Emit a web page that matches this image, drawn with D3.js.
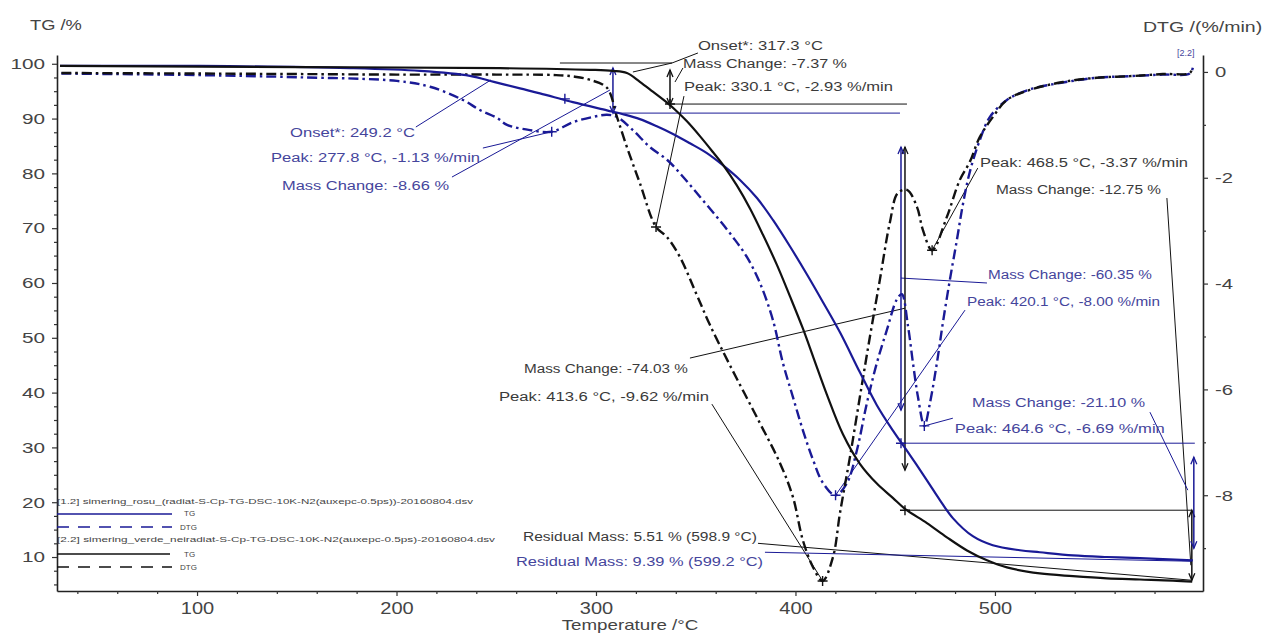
<!DOCTYPE html>
<html><head><meta charset="utf-8">
<script src="https://cdn.jsdelivr.net/npm/d3@7"></script>
<style>
body{margin:0;background:#fff;}
svg{display:block;font-family:"Liberation Sans",Arial,sans-serif;}
</style></head><body>
<svg id="c" width="1264" height="635"></svg>
<script>
// ---------- data ----------
// sample [1.2] (blue)
const blueTG_T = [31.3,101.5,176.7,211.8,236.8,248.8,261.9,271.9,288.4,305.5,313.5,322.0,330.5,338.6,347.1,355.6,363.6,372.2,380.7,388.7,397.2,405.7,413.8,422.3,432.3,440.8,448.8,457.4,465.9,472.4,478.9,488.9,498.9,512.5,522.5,539.1,556.1,572.7,599.2];
const blueTG   = [99.6,99.6,99.2,98.7,97.8,96.7,95.5,94.6,93.0,91.5,90.8,89.9,88.6,87.2,85.5,83.7,81.5,78.8,75.5,71.5,66.7,61.6,56.5,51.0,43.7,37.7,33.1,28.6,24.0,20.4,17.1,13.8,12.15,11.24,10.87,10.3,10.0,9.8,9.4];
const blueDTG_T = [32,100,150,200.2,216.8,233.3,241.8,250.4,255.4,266.9,277.8,288.4,298.5,305.5,310.5,318.5,327.0,335.6,343.6,352.1,360.6,368.6,375.7,382.2,388.7,393.7,398.7,403.7,408.8,413.8,420.1,425.8,430.8,435.8,440.8,445.8,450.8,453.3,456.4,458.9,461.4,464.6,467.4,470.9,473.9,477.4,480.9,483.9,487.4,492.4,497.5,506.0,517.5,534.1,551.1,567.6,584.2,597.7,599.2];
const blueDTG   = [-0.03,-0.06,-0.10,-0.17,-0.28,-0.53,-0.72,-0.87,-1.00,-1.10,-1.13,-0.95,-0.85,-0.81,-0.85,-1.10,-1.42,-1.66,-1.98,-2.36,-2.74,-3.12,-3.50,-3.99,-4.69,-5.50,-6.14,-6.77,-7.33,-7.77,-8.00,-7.77,-7.15,-6.26,-5.50,-4.88,-4.30,-4.20,-4.80,-5.50,-6.14,-6.69,-6.26,-5.50,-4.74,-3.93,-3.18,-2.51,-1.89,-1.29,-0.85,-0.53,-0.33,-0.20,-0.11,-0.08,-0.05,-0.03,0.08];
// sample [2.2] (black)
const blackTG_T = [31.3,151.6,251.9,297.0,308.5,315.5,322.0,328.5,335.6,340.6,345.6,352.1,358.6,363.6,370.6,377.2,383.7,390.7,397.2,403.7,409.0,415.8,423.8,432.3,440.8,448.8,454.9,465.9,475.9,486.0,496.0,506.0,522.5,539.1,556.1,572.7,589.2,598.9];
const blackTG   = [99.6,99.4,99.2,98.9,98.7,98.3,96.7,94.9,92.9,91.3,89.5,86.8,83.9,81.6,77.8,73.6,68.8,63.3,57.6,51.7,46.4,39.6,32.4,27.0,23.4,20.8,18.8,16.2,13.6,11.2,9.4,8.1,7.0,6.5,6.1,5.9,5.7,5.5];
const blackDTG_T = [32,100,150,200,250,280,289.4,297.0,305.5,310.5,315.5,322.0,330.1,335.6,342.1,350.6,357.1,367.1,382.2,392.2,398.7,403.7,408.8,413.6,418.8,422.3,427.3,432.3,437.3,442.3,447.3,451.3,455.9,460.9,463.9,468.5,475.9,482.4,487.4,492.4,499.0,506.0,517.5,534.1,551.1,567.6,584.2,597.7,598.9];
const blackDTG   = [-0.02,-0.03,-0.04,-0.05,-0.05,-0.06,-0.09,-0.15,-0.30,-0.85,-1.42,-2.10,-2.93,-3.12,-3.50,-4.22,-4.78,-5.54,-6.64,-7.39,-8.03,-8.85,-9.36,-9.62,-9.17,-8.34,-7.28,-6.14,-5.01,-3.93,-2.85,-2.29,-2.23,-2.55,-2.99,-3.37,-2.74,-2.04,-1.70,-1.23,-0.85,-0.53,-0.34,-0.19,-0.11,-0.08,-0.04,-0.02,0.08];

// evaluated peaks [T, DTG]
const bluePeaks  = [[277.8,-1.13],[420.1,-8.00],[464.6,-6.69]];
const blackPeaks = [[330.1,-2.93],[413.6,-9.62],[468.5,-3.37]];

// tick labels
const tgTicks  = [10,20,30,40,50,60,70,80,90,100];
const dtgTicks = [0,-2,-4,-6,-8];
const tTicks   = [100,200,300,400,500];

// legend entries
const legendFiles = ["[1.2] simering_rosu_(radiat-S-Cp-TG-DSC-10K-N2(auxepc-0.5ps))-20160804.dsv",
                     "[2.2] simering_verde_neiradiat-S-Cp-TG-DSC-10K-N2(auxepc-0.5ps)-20160804.dsv"];

// annotation texts (position in T / TG units)
const annoText = [
 {s:"Onset*: 317.3 °C", t:351.1, v:103.4, c:"k", w:125},
 {s:"Mass Change: -7.37 %", t:343.6, v:99.96, c:"k", w:164},
 {s:"Peak: 330.1 °C, -2.93 %/min", t:344.1, v:95.76, c:"k", w:209},
 {s:"Onset*: 249.2 °C", t:146.6, v:87.36, c:"b", w:125},
 {s:"Peak: 277.8 °C, -1.13 %/min", t:137.1, v:82.8, c:"b", w:209},
 {s:"Mass Change: -8.66 %", t:142.6, v:77.7, c:"b", w:167},
 {s:"Peak: 468.5 °C, -3.37 %/min", t:492.5, v:81.9, c:"k", w:208},
 {s:"Mass Change: -12.75 %", t:500.5, v:76.96, c:"k", w:165},
 {s:"Mass Change: -60.35 %", t:496.5, v:61.44, c:"b", w:164},
 {s:"Peak: 420.1 °C, -8.00 %/min", t:486.0, v:56.69, c:"b", w:193},
 {s:"Mass Change: -74.03 %", t:263.9, v:44.46, c:"k", w:164},
 {s:"Peak: 413.6 °C, -9.62 %/min", t:251.4, v:39.35, c:"k", w:210},
 {s:"Mass Change: -21.10 %", t:488.5, v:38.26, c:"b", w:173},
 {s:"Peak: 464.6 °C, -6.69 %/min", t:479.9, v:33.51, c:"b", w:210},
 {s:"Residual Mass: 5.51 % (598.9 °C)", t:263.4, v:13.79, c:"k", w:234},
 {s:"Residual Mass: 9.39 % (599.2 °C)", t:259.9, v:9.23, c:"b", w:247}
];
// guide / leader lines: points [T, TG] or [T, DTG, "R"]
const guides = [
 {c:"k", p:[[281.9,100.14],[338.1,100.14],[351.1,101.97]]},
 {c:"k", p:[[318.5,98.5],[338.1,100.14]]},
 {c:"k", p:[[339.6,96.67],[343.6,99.23]]},
 {c:"k", p:[[337.1,92.65],[455.9,92.65]]},
 {c:"k", p:[[344.1,94.1],[330.1,-2.93,"R"]]},
 {c:"k", p:[[347.1,46.3],[454.9,55.4]]},
 {c:"k", p:[[454.9,18.54],[598.7,18.54]]},
 {c:"k", p:[[358.1,37.9],[413.6,-9.62,"R"]]},
 {c:"k", p:[[491.4,80.97],[468.5,-3.37,"R"]]},
 {c:"k", p:[[586.2,75.5],[598.2,8.5]]},
 {c:"k", p:[[381.2,12.5],[598.7,5.76]]},
 {c:"b", p:[[209.7,88.46],[247.3,97.04]]},
 {c:"b", p:[[243.3,84.62],[277.8,-1.13,"R"]]},
 {c:"b", p:[[227.8,79.33],[307.0,95.21]]},
 {c:"b", p:[[308.5,91.0],[452.4,91.0]]},
 {c:"b", p:[[452.9,60.9],[496.0,60.0]]},
 {c:"b", p:[[452.9,30.77],[600.2,30.77]]},
 {c:"b", p:[[485.0,55.05],[420.1,-8.00,"R"]]},
 {c:"b", p:[[478.9,35.33],[464.6,-6.69,"R"]]},
 {c:"b", p:[[577.7,36.43],[596.7,22.2]]},
 {c:"b", p:[[384.7,10.87],[598.7,9.23]]}
];
// mass change double arrows [T, TG top, TG bottom]
const arrows = [
 {c:"k", t:337.1, a:98.86, b:92.47},
 {c:"k", t:454.9, a:84.8, b:25.84},
 {c:"k", t:598.7, a:18.54, b:5.76},
 {c:"b", t:308.5, a:99.23, b:91.0},
 {c:"b", t:452.9, a:84.8, b:36.8},
 {c:"b", t:599.7, a:28.2, b:11.6}
];
// TG step markers [T, TG]
const tgMarks = [{c:"k", t:454.9, v:18.54},{c:"b", t:452.9, v:30.77},{c:"b", t:284.4, v:93.6},{c:"k", t:337.1, v:92.65}];

// ---------- drawing ----------
const BLUE = "#1a1a96", BLACK = "#111111", BTXT = "#45459c", KTXT = "#3a3a3a";
const col = c => c === "b" ? BLUE : BLACK;
const tcol = c => c === "b" ? BTXT : KTXT;

const svg = d3.select("#c");
const x  = d3.scaleLinear().domain([29.8, 604.3]).range([57, 1203]);
const yL = d3.scaleLinear().domain([3.8, 101.6]).range([591, 55]);
const yR = d3.scaleLinear().domain([-9.81, 0.32]).range([591, 55]);

function stretch(sel, f){
  sel.each(function(){ const n=this.getComputedTextLength(); d3.select(this).attr("textLength", n*f).attr("lengthAdjust","spacingAndGlyphs"); });
}

// axes
const gL = svg.append("g").attr("transform","translate(57,0)")
  .call(d3.axisLeft(yL).tickValues(tgTicks).tickSize(5).tickSizeOuter(0).tickPadding(7).tickFormat(d=>String(d)));
svg.append("g").attr("transform","translate(57,0)")
  .call(d3.axisLeft(yL).tickValues(d3.range(5,101,2.5).filter(v=>v%10!==0)).tickSize(3).tickSizeOuter(0).tickFormat(""))
  .select(".domain").remove();
const gR = svg.append("g").attr("transform","translate(1203,0)")
  .call(d3.axisRight(yR).tickValues(dtgTicks).tickSize(5).tickSizeOuter(0).tickPadding(7).tickFormat(d=>String(d)));
svg.append("g").attr("transform","translate(1203,0)")
  .call(d3.axisRight(yR).tickValues([-1,-3,-5,-7,-9]).tickSize(3).tickSizeOuter(0).tickFormat(""))
  .select(".domain").remove();
const gB = svg.append("g").attr("transform","translate(0,591)")
  .call(d3.axisBottom(x).tickValues(tTicks).tickSize(5).tickSizeOuter(0).tickPadding(7).tickFormat(d=>String(d)));
svg.append("g").attr("transform","translate(0,591)")
  .call(d3.axisBottom(x).tickValues(d3.range(40,601,20).filter(v=>v%100!==0)).tickSize(3).tickSizeOuter(0).tickFormat(""))
  .select(".domain").remove();
svg.selectAll(".domain").attr("stroke","#222").attr("stroke-width",1.6);
svg.selectAll(".tick line").attr("stroke","#333").attr("stroke-width",1.2);
gL.selectAll("text").attr("font-size",15).attr("fill","#444").attr("font-family","Liberation Sans, Arial");
gR.selectAll("text").attr("font-size",15).attr("fill","#444").attr("font-family","Liberation Sans, Arial");
gB.selectAll("text").attr("font-size",16).attr("fill","#444").attr("font-family","Liberation Sans, Arial");
stretch(gL.selectAll("text"),1.38); stretch(gR.selectAll("text"),1.35); stretch(gB.selectAll("text"),1.25);

// titles
const t1 = svg.append("text").attr("x",30).attr("y",30).attr("font-size",15).attr("fill","#444").text("TG /%");
const t2 = svg.append("text").attr("x",1143).attr("y",32).attr("font-size",15).attr("fill","#444").text("DTG /(%/min)");
const t3 = svg.append("text").attr("x",630).attr("y",630).attr("text-anchor","middle").attr("font-size",15).attr("fill","#444").text("Temperature /°C");
stretch(t1,1.22); stretch(t2,1.3); stretch(t3,1.25);

// guide lines
svg.append("g").selectAll("path").data(guides).join("path")
  .attr("d", g => d3.line()(g.p.map(p => [x(p[0]), p[2]==="R" ? yR(p[1]) : yL(p[1])])))
  .attr("fill","none").attr("stroke", g => col(g.c)).attr("stroke-width",1);

// arrows
const ga = svg.append("g");
arrows.forEach(a => {
  const X = x(a.t), Y1 = yL(a.a), Y2 = yL(a.b);
  ga.append("line").attr("x1",X).attr("x2",X).attr("y1",Y1).attr("y2",Y2).attr("stroke",col(a.c)).attr("stroke-width",1.5);
  ga.append("path").attr("d",`M${X-3},${Y1+7}L${X},${Y1}L${X+3},${Y1+7}M${X-3},${Y2-7}L${X},${Y2}L${X+3},${Y2-7}`)
    .attr("fill","none").attr("stroke",col(a.c)).attr("stroke-width",1.3);
});

// curves
const lineL = d3.line().x(d=>x(d[0])).y(d=>yL(d[1])).curve(d3.curveCatmullRom.alpha(0.5));
const lineR = d3.line().x(d=>x(d[0])).y(d=>yR(d[1])).curve(d3.curveCatmullRom.alpha(0.5));
const zip = (a,b) => a.map((t,i)=>[t,b[i]]);
svg.append("path").attr("d", lineR(zip(blueDTG_T, blueDTG))).attr("fill","none").attr("stroke",BLUE).attr("stroke-width",2.4).attr("stroke-dasharray","10,4,2.5,4");
svg.append("path").attr("d", lineR(zip(blackDTG_T, blackDTG))).attr("fill","none").attr("stroke",BLACK).attr("stroke-width",2.4).attr("stroke-dasharray","10,4,2.5,4");
svg.append("path").attr("d", lineL(zip(blueTG_T, blueTG))).attr("fill","none").attr("stroke",BLUE).attr("stroke-width",2.2);
svg.append("path").attr("d", lineL(zip(blackTG_T, blackTG))).attr("fill","none").attr("stroke",BLACK).attr("stroke-width",2.2);

// peak markers
const plus = (X,Y,c) => svg.append("path").attr("d",`M${X-5},${Y}H${X+5}M${X},${Y-5}V${Y+5}`).attr("stroke",c).attr("stroke-width",1.4);
bluePeaks.forEach(p => plus(x(p[0]), yR(p[1]), BLUE));
blackPeaks.forEach(p => plus(x(p[0]), yR(p[1]), BLACK));
tgMarks.forEach(m => plus(x(m.t), yL(m.v), col(m.c)));

// annotation texts
svg.append("g").selectAll("text").data(annoText).join("text")
  .attr("x", d => x(d.t)).attr("y", d => yL(d.v)).attr("dy","0.35em")
  .attr("font-size",12.5).attr("fill", d => tcol(d.c))
  .attr("textLength", d => d.w).attr("lengthAdjust","spacingAndGlyphs")
  .text(d => d.s);

// [2.2] tag
svg.append("text").attr("x",1177).attr("y",56).attr("font-size",9).attr("fill",BTXT).text("[2.2]");

// legend
const lg = svg.append("g");
lg.append("text").attr("x",57).attr("y",504).attr("font-size",8).attr("fill","#444").text(legendFiles[0]).attr("textLength",416).attr("lengthAdjust","spacingAndGlyphs");
lg.append("line").attr("x1",57).attr("x2",172).attr("y1",514).attr("y2",514).attr("stroke",BLUE).attr("stroke-width",1.3);
lg.append("text").attr("x",184).attr("y",516).attr("font-size",8).attr("fill","#444").text("TG");
lg.append("line").attr("x1",57).attr("x2",172).attr("y1",527).attr("y2",527).attr("stroke",BLUE).attr("stroke-width",1.3).attr("stroke-dasharray","12,9");
lg.append("text").attr("x",180).attr("y",530).attr("font-size",8).attr("fill","#444").text("DTG");
lg.append("text").attr("x",57).attr("y",542).attr("font-size",8).attr("fill","#444").text(legendFiles[1]).attr("textLength",438).attr("lengthAdjust","spacingAndGlyphs");
lg.append("line").attr("x1",57).attr("x2",170).attr("y1",554).attr("y2",554).attr("stroke",BLACK).attr("stroke-width",1.3);
lg.append("text").attr("x",184).attr("y",557).attr("font-size",8).attr("fill","#444").text("TG");
lg.append("line").attr("x1",57).attr("x2",172).attr("y1",567).attr("y2",567).attr("stroke",BLACK).attr("stroke-width",1.3).attr("stroke-dasharray","12,9");
lg.append("text").attr("x",180).attr("y",570).attr("font-size",8).attr("fill","#444").text("DTG");
</script>
</body></html>
